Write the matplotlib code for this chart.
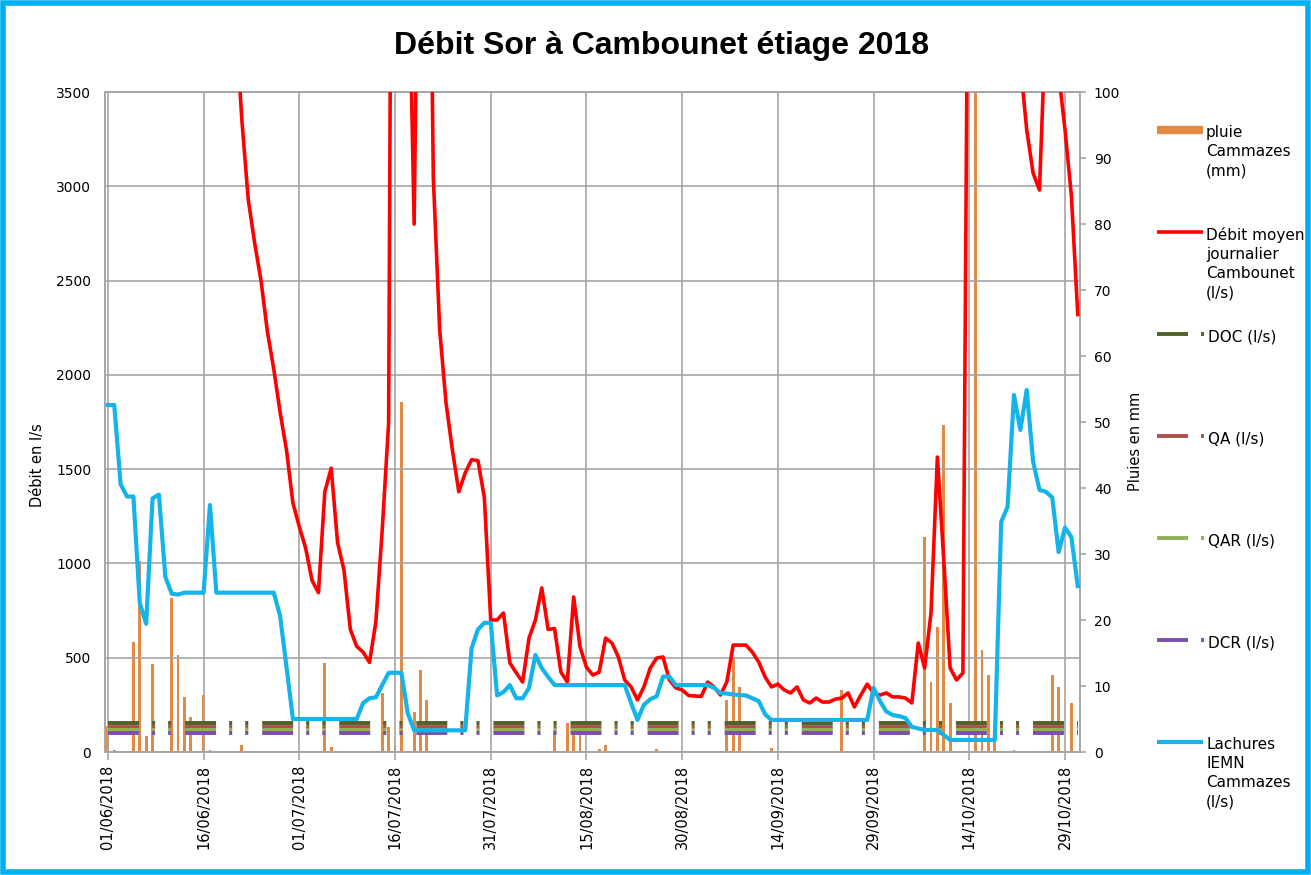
import matplotlib.pyplot as plt
import matplotlib.dates as mdates
from matplotlib.patches import Rectangle
import numpy as np
import pandas as pd

plt.rcParams['font.family'] = ['DejaVu Sans']
plt.rcParams['lines.scale_dashes'] = False

# Données : une valeur par jour du 01/06/2018 au 31/10/2018
dates = pd.date_range('2018-06-01', '2018-10-31', freq='D')

debit = [
    7600, 7300, 7100, 6900, 7400, 8200, 7900, 7600, 7200, 6800,
    6900, 7100, 6700, 6200, 5800, 5500, 5200, 4900, 4600, 4300,
    3900, 3350, 2930, 2700, 2500, 2230, 2030, 1800, 1600, 1320,
    1195, 1080, 910, 845, 1380, 1505, 1110, 965, 650, 560,
    530, 475, 690, 1180, 1745, 9000, 8000, 4500, 2800, 5600,
    6000, 3050, 2240, 1850, 1600, 1380, 1480, 1550, 1545, 1350,
    700, 700, 737, 472, 420, 371, 604, 700, 870, 650,
    655, 424, 371, 822, 557, 450, 408, 424, 604, 578,
    504, 382, 345, 276, 345, 445, 498, 504, 382, 340,
    329, 300, 297, 295, 371, 345, 302, 371, 567, 567,
    567, 530, 477, 398, 345, 360, 329, 313, 345, 276,
    260, 286, 265, 265, 280, 286, 313, 239, 302, 360,
    313, 302, 313, 292, 292, 286, 260, 578, 445, 737,
    1564, 1018, 445, 382, 419, 5500, 7400, 8100, 6900, 5800,
    5100, 4600, 4100, 3650, 3300, 3070, 2980, 3900, 4300, 3600,
    3300, 2950, 2320]

lachures = [
    1840, 1840, 1420, 1355, 1355, 790, 680, 1345, 1365, 930,
    840, 835, 845, 845, 845, 845, 1310, 845, 845, 845,
    845, 845, 845, 845, 845, 845, 845, 720, 450, 175,
    175, 175, 175, 175, 175, 175, 175, 175, 175, 175,
    260, 285, 290, 355, 420, 420, 420, 205, 115, 115,
    115, 115, 115, 115, 115, 115, 115, 550, 650, 685,
    685, 300, 318, 355, 285, 285, 340, 515, 445, 398,
    355, 355, 355, 355, 355, 355, 355, 355, 355, 355,
    355, 355, 260, 170, 250, 280, 295, 400, 400, 355,
    355, 355, 355, 355, 355, 340, 313, 310, 305, 302,
    300, 285, 270, 200, 170, 170, 170, 170, 170, 170,
    170, 170, 170, 170, 170, 170, 170, 170, 170, 170,
    340, 270, 215, 196, 190, 180, 133, 125, 117, 117,
    117, 90, 64, 64, 64, 64, 64, 64, 64, 64,
    1220, 1300, 1893, 1708, 1920, 1540, 1390, 1380, 1350, 1060,
    1190, 1140, 880]

# pluie : jours (indice depuis le 01/06) et hauteur en mm
pluie_jours = [0, 1, 4, 5, 6, 7, 10, 11, 12, 13, 15, 16, 21, 34, 35, 43, 44, 45, 46,
               48, 49, 50, 70, 72, 73, 74, 77, 78, 86, 97, 98, 99, 104, 115,
               128, 129, 130, 131, 132, 136, 137, 138, 139, 142, 148, 149, 151]
pluie_mm = [4, 0.3, 16.7, 29, 2.5, 13.3, 23.3, 14.7, 8.4, 5.3, 8.6, 0.3, 1, 13.5, 0.8, 9, 3.8, 1, 53,
            6, 12.4, 7.9, 3.3, 4.4, 2.6, 2.6, 0.5, 1, 0.5, 7.9, 14.4, 9.8, 0.6, 9.4,
            32.6, 10.6, 19, 49.5, 7.4, 115, 15.5, 11.7, 3.8, 0.3, 11.7, 9.8, 7.4]

# seuils (l/s)
seuils_noms = ['DOC (l/s)', 'QA (l/s)', 'QAR (l/s)', 'DCR (l/s)']
seuils_val = [155, 135, 117, 100]
seuils_coul = ['#4F6228', '#B0504D', '#8DB255', '#7B4FA6']

c_pluie = '#E08A45'
c_debit = '#FF0000'
c_lach = '#14B4EA'
c_grid = '#A6A6A6'
tirets = (0, (22.3, 9.4, 2.2, 9.4, 2.2, 10.0))

W, H = 1311, 875
fig = plt.figure(figsize=(W / 100, H / 100), dpi=100)
ax1 = fig.add_axes([105 / W, 1 - 752 / H, 975 / W, 660 / H])
ax2 = ax1.twinx()
ax1.set_zorder(ax2.get_zorder() + 1)
ax1.patch.set_visible(False)

# barres pluie (axe secondaire)
ax2.bar(dates[pluie_jours], pluie_mm, width=0.45, color=c_pluie, zorder=2)
ax2.set_ylim(0, 100)
ax2.set_yticks(range(0, 101, 10))

# courbes (axe principal)
for v, c in zip(seuils_val, seuils_coul):
    ax1.plot(dates, np.full(len(dates), v), color=c, lw=2.8, linestyle=tirets,
             solid_capstyle='butt', dash_capstyle='butt', zorder=3)
ax1.plot(dates, debit, color=c_debit, lw=2.6, zorder=4)
ax1.plot(dates, lachures, color=c_lach, lw=3.0, zorder=5)

ax1.set_ylim(0, 3500)
ax1.set_yticks(range(0, 3501, 500))
x0 = mdates.date2num(dates[0])
ax1.set_xlim(x0 - 0.45, x0 + 152.35)
ax1.set_xticks(dates[::15])
ax1.xaxis.set_major_formatter(mdates.DateFormatter('%d/%m/%Y'))
ax1.grid(True, color=c_grid, lw=1.2)

for a in (ax1, ax2):
    for s in a.spines.values():
        s.set_color(c_grid)
        s.set_linewidth(1.2)

ax1.tick_params(axis='y', length=0, pad=10, labelsize=10)
ax1.tick_params(axis='x', length=6, color=c_grid, width=1.2, pad=3,
                labelsize=10.5, labelrotation=90)
ax2.tick_params(axis='y', length=4, color=c_grid, width=1.2, pad=6, labelsize=10)

ax1.set_ylabel('Débit en l/s', fontsize=10.5)
ax1.yaxis.set_label_coords(-0.062, 0.435)
ax2.set_ylabel('Pluies en mm', fontsize=10.5, rotation=90)
ax2.yaxis.set_label_coords(1.049, 0.47)

fig.text(662 / W, 1 - 46 / H, 'Débit Sor à Cambounet étiage 2018',
         ha='center', va='center', fontsize=23, fontweight='bold',
         family='Liberation Sans')

# légende à droite et cadre bleu (coordonnées pixels)
lax = fig.add_axes([0, 0, 1, 1])
lax.set_xlim(0, W)
lax.set_ylim(H, 0)
lax.axis('off')

leg_labels = ['pluie\nCammazes\n(mm)', 'Débit moyen\njournalier\nCambounet\n(l/s)'] + \
    seuils_noms + ['Lachures\nIEMN\nCammazes\n(l/s)']
leg_y = [130 + 102 * i for i in range(len(leg_labels))]

lax.plot([1157, 1203], [leg_y[0], leg_y[0]], color=c_pluie, lw=6, solid_capstyle='butt')
lax.plot([1157, 1203], [leg_y[1], leg_y[1]], color=c_debit, lw=2.6, solid_capstyle='butt')
for i, c in enumerate(seuils_coul):
    y = leg_y[2 + i]
    lax.plot([1157, 1204], [y, y], color=c, lw=2.8, linestyle=tirets,
             solid_capstyle='butt', dash_capstyle='butt')
lax.plot([1157, 1203], [leg_y[6], leg_y[6]], color=c_lach, lw=3.0, solid_capstyle='butt')

for i, (lab, y) in enumerate(zip(leg_labels, leg_y)):
    xt = 1208 if 2 <= i <= 5 else 1206
    lax.text(xt, y - 5, lab, ha='left', va='top', fontsize=11, linespacing=1.35)

lax.add_patch(Rectangle((3, 3), W - 6, H - 6, fill=False, edgecolor='#00B0F0', lw=4))

fig.savefig('out.png', dpi=100)
